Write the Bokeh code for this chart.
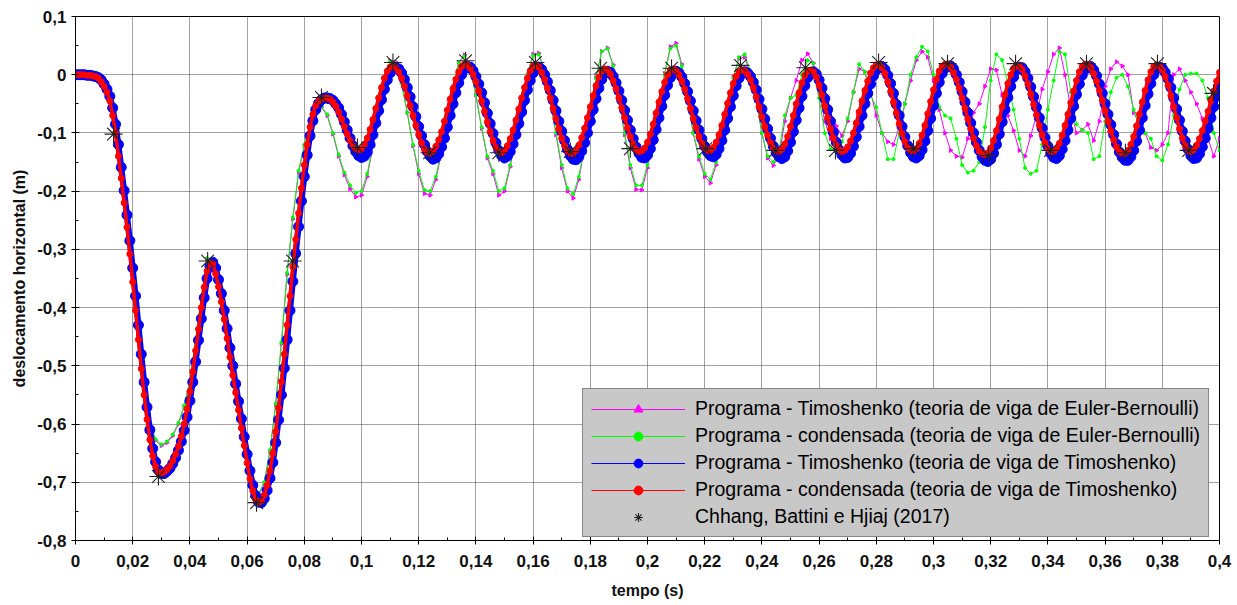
from bokeh.plotting import figure
from bokeh.models import Legend, LegendItem, CustomJSTickFormatter, FixedTicker, Range1d, ColumnDataSource
from bokeh.embed import file_html
from bokeh.resources import INLINE

# ---------------- data ----------------
x_ticks = [0.0, 0.02, 0.04, 0.06, 0.08, 0.1, 0.12, 0.14, 0.16, 0.18, 0.2,
           0.22, 0.24, 0.26, 0.28, 0.3, 0.32, 0.34, 0.36, 0.38, 0.4]
x_tick_labels = ["0", "0,02", "0,04", "0,06", "0,08", "0,1", "0,12", "0,14", "0,16", "0,18", "0,2",
                 "0,22", "0,24", "0,26", "0,28", "0,3", "0,32", "0,34", "0,36", "0,38", "0,4"]
y_ticks = [-0.8, -0.7, -0.6, -0.5, -0.4, -0.3, -0.2, -0.1, 0.0, 0.1]
y_tick_labels = ["-0,8", "-0,7", "-0,6", "-0,5", "-0,4", "-0,3", "-0,2", "-0,1", "0", "0,1"]

# time grids (s)
t_fine = [round(i * 0.001, 3) for i in range(401)]
t_coarse = [round(i * 0.002, 3) for i in range(201)]

# Programa - condensada (Timoshenko)  -> red
red_vals = [
    0.0, 0.0, 0.0, 0.0, -0.001, -0.001, -0.002, -0.003, -0.006, -0.012,
    -0.02, -0.03, -0.045, -0.07, -0.1, -0.14, -0.178, -0.22, -0.262, -0.308,
    -0.356, -0.405, -0.455, -0.505, -0.55, -0.592, -0.627, -0.655, -0.673, -0.683,
    -0.684, -0.682, -0.678, -0.672, -0.663, -0.652, -0.638, -0.621, -0.6, -0.574,
    -0.544, -0.51, -0.474, -0.437, -0.4, -0.365, -0.337, -0.323, -0.325, -0.342,
    -0.364, -0.39, -0.42, -0.453, -0.485, -0.516, -0.546, -0.576, -0.607, -0.637,
    -0.667, -0.694, -0.715, -0.73, -0.735, -0.732, -0.722, -0.705, -0.68, -0.65,
    -0.613, -0.572, -0.527, -0.48, -0.43, -0.38, -0.33, -0.283, -0.238, -0.195,
    -0.155, -0.12, -0.09, -0.068, -0.053, -0.045, -0.041, -0.04, -0.04, -0.042,
    -0.047, -0.054, -0.064, -0.076, -0.089, -0.102, -0.113, -0.122, -0.127, -0.129,
    -0.127, -0.12, -0.109, -0.094, -0.077, -0.058, -0.04, -0.022, -0.006, 0.006,
    0.013, 0.015, 0.012, 0.005, -0.006, -0.02, -0.036, -0.053, -0.07, -0.087,
    -0.103, -0.117, -0.128, -0.134, -0.135, -0.131, -0.123, -0.112, -0.098, -0.08,
    -0.061, -0.042, -0.024, -0.008, 0.005, 0.014, 0.018, 0.017, 0.011, 0.001,
    -0.012, -0.028, -0.045, -0.063, -0.081, -0.098, -0.113, -0.125, -0.132, -0.134,
    -0.13, -0.122, -0.11, -0.095, -0.078, -0.059, -0.04, -0.022, -0.006, 0.007,
    0.015, 0.017, 0.013, 0.004, -0.008, -0.023, -0.04, -0.058, -0.076, -0.093,
    -0.109, -0.122, -0.131, -0.135, -0.135, -0.13, -0.121, -0.108, -0.092, -0.074,
    -0.055, -0.036, -0.019, -0.004, 0.006, 0.01, 0.008, 0.001, -0.01, -0.024,
    -0.04, -0.057, -0.074, -0.091, -0.106, -0.119, -0.128, -0.132, -0.131, -0.126,
    -0.116, -0.102, -0.085, -0.066, -0.047, -0.029, -0.013, 0.0, 0.008, 0.01,
    0.007, 0.0, -0.011, -0.025, -0.041, -0.058, -0.075, -0.091, -0.106, -0.118,
    -0.126, -0.13, -0.13, -0.125, -0.116, -0.103, -0.087, -0.068, -0.049, -0.031,
    -0.015, -0.003, 0.005, 0.008, 0.007, 0.001, -0.009, -0.022, -0.038, -0.055,
    -0.072, -0.089, -0.104, -0.117, -0.126, -0.131, -0.132, -0.128, -0.119, -0.106,
    -0.089, -0.07, -0.05, -0.031, -0.014, -0.001, 0.006, 0.008, 0.005, -0.004,
    -0.018, -0.035, -0.054, -0.074, -0.093, -0.109, -0.121, -0.129, -0.132, -0.13,
    -0.124, -0.114, -0.1, -0.083, -0.064, -0.045, -0.027, -0.011, 0.003, 0.012,
    0.017, 0.017, 0.012, 0.002, -0.012, -0.029, -0.047, -0.066, -0.084, -0.101,
    -0.115, -0.125, -0.13, -0.131, -0.127, -0.118, -0.104, -0.087, -0.067, -0.046,
    -0.026, -0.008, 0.006, 0.014, 0.018, 0.018, 0.013, 0.004, -0.008, -0.023,
    -0.04, -0.058, -0.076, -0.093, -0.109, -0.122, -0.131, -0.136, -0.137, -0.134,
    -0.126, -0.113, -0.096, -0.076, -0.055, -0.034, -0.015, 0.0, 0.011, 0.016,
    0.015, 0.009, -0.002, -0.016, -0.033, -0.051, -0.069, -0.087, -0.103, -0.117,
    -0.127, -0.132, -0.132, -0.127, -0.118, -0.104, -0.087, -0.068, -0.048, -0.028,
    -0.01, 0.005, 0.014, 0.018, 0.018, 0.012, 0.002, -0.011, -0.027, -0.044,
    -0.062, -0.08, -0.097, -0.112, -0.124, -0.132, -0.135, -0.135, -0.13, -0.12,
    -0.106, -0.088, -0.068, -0.047, -0.027, -0.009, 0.005, 0.014, 0.017, 0.015,
    0.008, -0.003, -0.018, -0.036, -0.055, -0.074, -0.093, -0.109, -0.122, -0.13,
    -0.132, -0.129, -0.121, -0.11, -0.096, -0.08, -0.063, -0.045, -0.028, -0.011,
    0.004,
]

# Programa - Timoshenko (Timoshenko) -> blue
blue_vals = [
    0.0, 0.0, 0.0, 0.0, -0.001, -0.001, -0.002, -0.003, -0.005, -0.009,
    -0.016, -0.025, -0.037, -0.057, -0.085, -0.12, -0.159, -0.199, -0.241, -0.285,
    -0.332, -0.38, -0.43, -0.48, -0.528, -0.571, -0.61, -0.642, -0.665, -0.679,
    -0.685, -0.685, -0.681, -0.676, -0.668, -0.658, -0.645, -0.63, -0.611, -0.588,
    -0.56, -0.528, -0.493, -0.456, -0.419, -0.383, -0.35, -0.329, -0.322, -0.332,
    -0.352, -0.376, -0.405, -0.436, -0.469, -0.5, -0.531, -0.561, -0.591, -0.622,
    -0.652, -0.68, -0.705, -0.723, -0.734, -0.735, -0.728, -0.714, -0.693, -0.666,
    -0.632, -0.593, -0.55, -0.504, -0.455, -0.405, -0.355, -0.307, -0.261, -0.217,
    -0.175, -0.138, -0.105, -0.079, -0.06, -0.049, -0.043, -0.04, -0.04, -0.041,
    -0.044, -0.05, -0.057, -0.068, -0.081, -0.095, -0.109, -0.122, -0.132, -0.139,
    -0.142, -0.14, -0.133, -0.12, -0.103, -0.083, -0.062, -0.043, -0.025, -0.009,
    0.003, 0.01, 0.012, 0.01, 0.003, -0.008, -0.022, -0.038, -0.055, -0.072,
    -0.089, -0.105, -0.12, -0.132, -0.14, -0.145, -0.143, -0.136, -0.124, -0.109,
    -0.09, -0.07, -0.05, -0.031, -0.014, 0.0, 0.01, 0.014, 0.013, 0.007,
    -0.003, -0.016, -0.031, -0.048, -0.066, -0.084, -0.101, -0.117, -0.13, -0.139,
    -0.143, -0.14, -0.132, -0.119, -0.103, -0.084, -0.064, -0.044, -0.026, -0.01,
    0.003, 0.011, 0.013, 0.009, 0.0, -0.012, -0.027, -0.044, -0.062, -0.08,
    -0.097, -0.113, -0.128, -0.139, -0.145, -0.146, -0.141, -0.131, -0.117, -0.1,
    -0.08, -0.06, -0.041, -0.023, -0.008, 0.002, 0.006, 0.004, -0.003, -0.014,
    -0.028, -0.044, -0.061, -0.078, -0.095, -0.11, -0.124, -0.135, -0.142, -0.143,
    -0.138, -0.127, -0.112, -0.094, -0.074, -0.054, -0.035, -0.018, -0.005, 0.003,
    0.006, 0.003, -0.004, -0.015, -0.029, -0.045, -0.062, -0.079, -0.095, -0.11,
    -0.123, -0.133, -0.139, -0.141, -0.137, -0.127, -0.113, -0.095, -0.075, -0.055,
    -0.036, -0.019, -0.006, 0.002, 0.005, 0.003, -0.003, -0.013, -0.026, -0.042,
    -0.059, -0.076, -0.093, -0.109, -0.123, -0.134, -0.141, -0.144, -0.141, -0.131,
    -0.116, -0.098, -0.078, -0.057, -0.037, -0.019, -0.005, 0.003, 0.005, 0.001,
    -0.009, -0.023, -0.041, -0.06, -0.08, -0.099, -0.116, -0.129, -0.138, -0.143,
    -0.142, -0.135, -0.123, -0.107, -0.089, -0.07, -0.05, -0.032, -0.016, -0.002,
    0.008, 0.013, 0.014, 0.009, -0.001, -0.015, -0.032, -0.051, -0.07, -0.089,
    -0.107, -0.122, -0.134, -0.141, -0.143, -0.139, -0.129, -0.114, -0.096, -0.075,
    -0.053, -0.032, -0.013, 0.002, 0.011, 0.015, 0.015, 0.01, 0.0, -0.013,
    -0.029, -0.047, -0.065, -0.083, -0.1, -0.116, -0.13, -0.141, -0.147, -0.149,
    -0.145, -0.135, -0.12, -0.102, -0.081, -0.06, -0.039, -0.02, -0.004, 0.008,
    0.013, 0.012, 0.005, -0.006, -0.021, -0.038, -0.056, -0.074, -0.092, -0.108,
    -0.123, -0.135, -0.142, -0.144, -0.139, -0.128, -0.113, -0.095, -0.075, -0.054,
    -0.034, -0.016, -0.001, 0.009, 0.014, 0.014, 0.008, -0.002, -0.016, -0.032,
    -0.05, -0.068, -0.086, -0.103, -0.119, -0.133, -0.142, -0.147, -0.147, -0.141,
    -0.13, -0.114, -0.095, -0.074, -0.053, -0.033, -0.015, 0.0, 0.01, 0.013,
    0.011, 0.004, -0.007, -0.022, -0.04, -0.059, -0.078, -0.097, -0.114, -0.128,
    -0.139, -0.144, -0.143, -0.136, -0.124, -0.109, -0.092, -0.074, -0.055, -0.037,
    -0.02,
]

# Programa - condensada (Euler-Bernoulli) -> green
green_vals = [
    0.0, 0.0, -0.001, -0.002, -0.005, -0.018, -0.043, -0.098, -0.175, -0.26,
    -0.352, -0.447, -0.535, -0.597, -0.626, -0.635, -0.63, -0.618, -0.598, -0.568,
    -0.525, -0.455, -0.38, -0.315, -0.318, -0.35, -0.405, -0.47, -0.535, -0.595,
    -0.65, -0.695, -0.72, -0.7, -0.645, -0.565, -0.46, -0.34, -0.245, -0.165,
    -0.12, -0.088, -0.065, -0.055, -0.068, -0.1, -0.137, -0.168, -0.19, -0.203,
    -0.2, -0.17, -0.12, -0.065, -0.015, 0.022, 0.02, -0.015, -0.065, -0.12,
    -0.165, -0.198, -0.2, -0.175, -0.13, -0.075, -0.02, 0.02, 0.032, 0.01,
    -0.035, -0.09, -0.14, -0.165, -0.2, -0.195, -0.155, -0.1, -0.045, 0.0,
    0.033, 0.035, 0.005, -0.045, -0.1, -0.155, -0.195, -0.205, -0.175, -0.12,
    -0.06, -0.005, 0.04, 0.045, 0.015, -0.04, -0.1, -0.155, -0.19, -0.19,
    -0.155, -0.1, -0.05, 0.0, 0.045, 0.05, 0.015, -0.04, -0.1, -0.14,
    -0.17, -0.18, -0.15, -0.1, -0.05, -0.005, 0.03, 0.035, 0.005, -0.045,
    -0.1, -0.14, -0.15, -0.13, -0.07, -0.04, -0.035, 0.0, 0.025, 0.02,
    -0.04, -0.1, -0.128, -0.13, -0.115, -0.075, -0.03, 0.018, 0.005, -0.035,
    -0.056, -0.1, -0.145, -0.145, -0.1, -0.05, 0.0, 0.03, 0.048, 0.04,
    0.0, -0.055, -0.07, -0.075, -0.11, -0.155, -0.168, -0.165, -0.15, -0.09,
    -0.01, 0.035, 0.025, -0.015, -0.06, -0.11, -0.16, -0.17, -0.165, -0.12,
    -0.06, -0.01, 0.04, 0.035, -0.03, -0.085, -0.095, -0.1, -0.145, -0.14,
    -0.08, -0.03, -0.005, 0.0, -0.02, -0.06, -0.09, -0.1, -0.11, -0.14,
    -0.147, -0.12, -0.07, -0.025, 0.0, 0.002, 0.002, -0.01, -0.04, -0.1,
    -0.13,
]

# Programa - Timoshenko (Euler-Bernoulli) -> magenta
magenta_vals = [
    0.0, 0.0, -0.001, -0.002, -0.005, -0.018, -0.044, -0.099, -0.176, -0.262,
    -0.354, -0.449, -0.537, -0.599, -0.628, -0.637, -0.632, -0.62, -0.6, -0.57,
    -0.527, -0.458, -0.383, -0.318, -0.32, -0.352, -0.407, -0.472, -0.537, -0.597,
    -0.652, -0.697, -0.722, -0.702, -0.647, -0.567, -0.462, -0.343, -0.248, -0.168,
    -0.122, -0.089, -0.066, -0.056, -0.07, -0.102, -0.14, -0.172, -0.196, -0.21,
    -0.207, -0.175, -0.123, -0.067, -0.015, 0.024, 0.022, -0.013, -0.065, -0.122,
    -0.17, -0.204, -0.207, -0.18, -0.133, -0.077, -0.02, 0.021, 0.034, 0.012,
    -0.035, -0.092, -0.143, -0.17, -0.207, -0.2, -0.158, -0.102, -0.046, 0.0,
    0.035, 0.037, 0.006, -0.046, -0.103, -0.16, -0.2, -0.212, -0.18, -0.123,
    -0.062, -0.005, 0.04, 0.046, 0.017, -0.04, -0.103, -0.16, -0.197, -0.198,
    -0.16, -0.102, -0.05, 0.002, 0.048, 0.054, 0.018, -0.038, -0.1, -0.145,
    -0.175, -0.186, -0.155, -0.102, -0.05, -0.004, 0.028, 0.03, 0.002, -0.045,
    -0.1, -0.143, -0.156, -0.14, -0.08, -0.04, -0.01, 0.025, 0.036, 0.02,
    -0.03, -0.08, -0.11, -0.088, -0.105, -0.08, -0.03, 0.01, 0.005, -0.03,
    -0.07, -0.1, -0.115, -0.12, -0.09, -0.05, -0.01, 0.025, 0.04, 0.03,
    -0.01, -0.06, -0.1, -0.13, -0.14, -0.142, -0.11, -0.065, -0.05, -0.02,
    0.01, 0.008, -0.035, -0.07, -0.096, -0.13, -0.14, -0.105, -0.07, -0.025,
    0.005, 0.035, 0.046, 0.0, -0.06, -0.1, -0.095, -0.085, -0.113, -0.08,
    -0.02, 0.01, 0.022, 0.015, 0.0, -0.065, -0.085, -0.1, -0.125, -0.13,
    -0.12, -0.1, 0.0, 0.01, -0.01, -0.03, -0.05, -0.075, -0.11, -0.14,
    -0.11,
]

# Chhang, Battini e Hjiaj (2017)
star_t = [0.0133, 0.029, 0.0462, 0.0633, 0.0759, 0.086, 0.0986, 0.111, 0.1238, 0.1364,
          0.148, 0.1608, 0.173, 0.1836, 0.194, 0.2084, 0.2203, 0.2325, 0.2448, 0.2552,
          0.2657, 0.2808, 0.293, 0.3049, 0.3192, 0.3287, 0.3409, 0.3535, 0.3671, 0.3783,
          0.3892, 0.3979]
star_v = [-0.102, -0.69, -0.32, -0.735, -0.32, -0.039, -0.125, 0.021, -0.134, 0.024,
          -0.134, 0.021, -0.132, 0.011, -0.127, 0.011, -0.127, 0.016, -0.13, 0.012,
          -0.13, 0.021, -0.127, 0.019, -0.139, 0.019, -0.13, 0.019, -0.134, 0.019,
          -0.13, -0.032]

labels = [
    "Programa - Timoshenko (teoria de viga de Euler-Bernoulli)",
    "Programa - condensada (teoria de viga de Euler-Bernoulli)",
    "Programa - Timoshenko (teoria de viga de Timoshenko)",
    "Programa - condensada (teoria de viga de Timoshenko)",
    "Chhang, Battini e Hjiaj (2017)",
]

# ---------------- figure ----------------
FONT = "Liberation Sans"

p = figure(width=1237, height=605, output_backend="svg", toolbar_location=None,
           x_range=Range1d(0, 0.4), y_range=Range1d(-0.8, 0.1),
           min_border_left=75, min_border_right=18, min_border_top=16, min_border_bottom=65)
p.background_fill_color = "white"
p.border_fill_color = "white"
p.outline_line_color = "black"
p.outline_line_width = 1

fine = ColumnDataSource(dict(t=t_fine, red=red_vals, blue=blue_vals))
coarse = ColumnDataSource(dict(t=t_coarse, green=green_vals, magenta=magenta_vals))
stars = ColumnDataSource(dict(t=star_t, v=star_v))

m_line = p.line("t", "magenta", source=coarse, line_color="#ff00ff", line_width=1)
m_pts = p.scatter("t", "magenta", source=coarse, marker="triangle", angle=-1.5708, size=4,
                  fill_color="#ff00ff", line_color="#ff00ff")
g_line = p.line("t", "green", source=coarse, line_color="#00ff00", line_width=1)
g_pts = p.scatter("t", "green", source=coarse, marker="circle", size=3,
                  fill_color="#00ff00", line_color="#00ff00")
# dense marker band of the blue series
p.line("t", "blue", source=fine, line_color="#0000ff", line_width=6, line_join="round")
b_line = p.line("t", "blue", source=fine, line_color="#0000ff", line_width=1)
b_pts = p.scatter("t", "blue", source=fine, marker="circle", size=10,
                  fill_color="#0000ff", line_color="#0000ff")
p.line("t", "red", source=fine, line_color="#ff0000", line_width=3.5, line_join="round")
r_line = p.line("t", "red", source=fine, line_color="#ff0000", line_width=1)
r_pts = p.scatter("t", "red", source=fine, marker="circle", size=6,
                  fill_color="#ff0000", line_color="#ff0000")
s_pts = p.scatter("t", "v", source=stars, marker="asterisk", size=18,
                  line_color="#222222", line_width=1.1)

# axes
fmt_code = """
for (let i = 0; i < tks.length; i++) { if (Math.abs(tks[i] - tick) < 1e-9) return lbls[i]; }
return '';
"""
xfmt = CustomJSTickFormatter(args=dict(tks=x_ticks, lbls=x_tick_labels), code=fmt_code)
yfmt = CustomJSTickFormatter(args=dict(tks=y_ticks, lbls=y_tick_labels), code=fmt_code)
x_minor = [round(t + 0.01, 3) for t in x_ticks[:-1]]
y_minor = [round(t + 0.05, 3) for t in y_ticks[:-1]]
p.xaxis.ticker = FixedTicker(ticks=x_ticks, minor_ticks=x_minor)
p.yaxis.ticker = FixedTicker(ticks=y_ticks, minor_ticks=y_minor)
p.xaxis.formatter = xfmt
p.yaxis.formatter = yfmt

for ax in (p.xaxis[0], p.yaxis[0]):
    ax.axis_line_color = "black"
    ax.major_tick_line_color = "black"
    ax.minor_tick_line_color = "black"
    ax.major_tick_in = 4
    ax.major_tick_out = 4
    ax.minor_tick_in = 3
    ax.minor_tick_out = 0
    ax.major_label_text_font = FONT
    ax.major_label_text_font_size = "17px"
    ax.major_label_text_font_style = "bold"
    ax.major_label_text_color = "#111111"
    ax.axis_label_text_font = FONT
    ax.axis_label_text_font_size = "16px"
    ax.axis_label_text_font_style = "bold"
    ax.axis_label_text_color = "#111111"

p.xaxis.axis_label = "tempo (s)"
p.yaxis.axis_label = "deslocamento horizontal (m)"
p.xaxis.major_label_standoff = 10
p.xaxis.axis_label_standoff = 12
p.yaxis.major_label_standoff = 5
p.yaxis.axis_label_standoff = 6

p.xgrid.ticker = FixedTicker(ticks=x_ticks)
p.ygrid.ticker = FixedTicker(ticks=y_ticks)
for g in (p.xgrid[0], p.ygrid[0]):
    g.grid_line_color = "#444444"
    g.grid_line_dash = "1 1"
    g.grid_line_width = 1

legend = Legend(items=[
    LegendItem(label=labels[0], renderers=[m_line, m_pts]),
    LegendItem(label=labels[1], renderers=[g_line, g_pts]),
    LegendItem(label=labels[2], renderers=[b_line, b_pts]),
    LegendItem(label=labels[3], renderers=[r_line, r_pts]),
    LegendItem(label=labels[4], renderers=[s_pts]),
], location=(507, 3))
legend.background_fill_color = "#c8c8c8"
legend.background_fill_alpha = 1.0
legend.border_line_color = "#444444"
legend.border_line_width = 1
legend.label_text_font = FONT
legend.label_text_font_size = "19.5px"
legend.label_text_color = "black"
legend.glyph_width = 94
legend.glyph_height = 22
legend.label_height = 22
legend.label_standoff = 10
legend.spacing = 4
legend.padding = 8
legend.margin = 0
p.add_layout(legend)

open("out.html", "w").write(file_html(p, INLINE))
